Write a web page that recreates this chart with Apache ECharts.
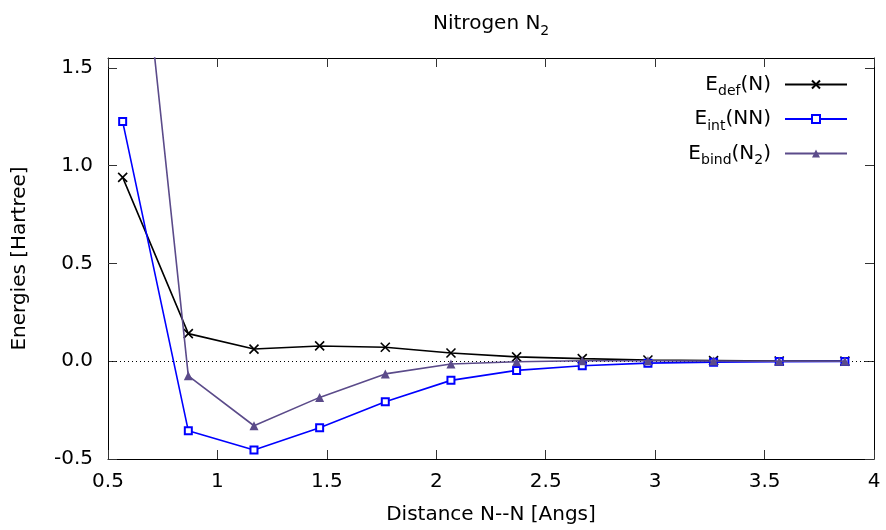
<!DOCTYPE html>
<html>
<head>
<meta charset="utf-8">
<script src="https://cdn.jsdelivr.net/npm/echarts@6/dist/echarts.min.js"></script>
<style>
  html, body { margin: 0; padding: 0; background: #fff; }
  #chart { width: 886px; height: 530px; }
</style>
</head>
<body>
<div id="chart"></div>
<script>
// N–N separation (Angstrom)
const distances = [0.567, 0.867, 1.167, 1.467, 1.767, 2.067, 2.367, 2.667, 2.967, 3.267, 3.567, 3.867];
// Deformation energy of one N atom (Hartree)
const eDef = [0.940, 0.141, 0.062, 0.078, 0.071, 0.042, 0.022, 0.013, 0.006, 0.003, 0.001, 0.0005];
// Interaction energy N–N (Hartree)
const eInt = [1.225, -0.356, -0.454, -0.340, -0.207, -0.098, -0.047, -0.023, -0.010, -0.005, -0.002, -0.001];
// Binding energy of N2 (Hartree)
const eBind = [3.105, -0.075, -0.330, -0.185, -0.065, -0.014, -0.003, 0.002, 0.002, 0.001, 0.000, 0.000];

const xTicks = [0.5, 1, 1.5, 2, 2.5, 3, 3.5, 4];
const yTicks = [-0.5, 0.0, 0.5, 1.0, 1.5];

const FONT = 'DejaVu Sans';
const FS = 20;
const SUB = 14;

const richStyles = {
  a: { fontFamily: FONT, fontSize: FS, fontWeight: 'normal', color: '#000', lineHeight: 28 },
  s: { fontFamily: FONT, fontSize: SUB, fontWeight: 'normal', color: '#000', lineHeight: 14, verticalAlign: 'bottom' },
  e: { fontFamily: FONT, fontSize: FS, fontWeight: 'normal', color: '#000', lineHeight: 28, padding: [0, 9, 0, 0] }
};

const pair = (ys) => distances.map((x, i) => [x, ys[i]]);

const seriesNames = ['def', 'int', 'bind'];
const legendLabels = {
  def: '{a|E}{s|def}{a|(N}{e|)}',
  int: '{a|E}{s|int}{a|(NN}{e|)}',
  bind: '{a|E}{s|bind}{a|(N}{s|2}{e|)}'
};

const axisCommon = {
  type: 'value',
  axisLine: { show: true, onZero: false, lineStyle: { color: '#000', width: 1 } },
  axisTick: { show: true, inside: true, length: 9, lineStyle: { color: '#333', width: 1 } },
  splitLine: { show: false }
};

const chart = echarts.init(document.getElementById('chart'), null, { renderer: 'canvas' });

chart.setOption({
  animation: false,
  backgroundColor: '#fff',
  title: {
    text: '{a|Nitrogen N}{s|2}',
    left: 428,
    top: 5,
    textStyle: { fontWeight: 'normal', rich: richStyles }
  },
  legend: seriesNames.map((n, i) => ({
    data: [n],
    orient: 'vertical',
    align: 'right',
    right: 38,
    top: 74.5 + i * 34.5,
    padding: 0,
    itemWidth: 62,
    itemHeight: 10,
    selectedMode: false,
    formatter: (name) => legendLabels[name],
    textStyle: { rich: richStyles }
  })),
  grid: { left: 108, right: 12, top: 58, bottom: 71, containLabel: false },
  xAxis: [
    Object.assign({}, axisCommon, {
      position: 'bottom',
      min: 0.5, max: 4, interval: 0.5,
      name: 'Distance N--N [Angs]',
      nameLocation: 'middle',
      nameGap: 46,
      nameTextStyle: { fontFamily: FONT, fontSize: FS, color: '#000' },
      axisTick: Object.assign({}, axisCommon.axisTick, { customValues: xTicks }),
      axisLabel: {
        customValues: xTicks,
        margin: 13,
        fontFamily: FONT, fontSize: FS, color: '#000',
        formatter: (v) => String(v)
      }
    }),
    Object.assign({}, axisCommon, {
      position: 'top',
      min: 0.5, max: 4, interval: 0.5,
      axisTick: Object.assign({}, axisCommon.axisTick, { customValues: xTicks }),
      axisLabel: { show: false }
    })
  ],
  yAxis: [
    Object.assign({}, axisCommon, {
      position: 'left',
      min: -0.5, max: 1.55,
      name: 'Energies [Hartree]',
      nameLocation: 'middle',
      nameGap: 78,
      nameTextStyle: { fontFamily: FONT, fontSize: FS, color: '#000' },
      axisTick: Object.assign({}, axisCommon.axisTick, { customValues: yTicks }),
      axisLabel: {
        customValues: yTicks,
        margin: 15,
        fontFamily: FONT, fontSize: FS, color: '#000',
        formatter: (v) => v.toFixed(1)
      }
    }),
    Object.assign({}, axisCommon, {
      position: 'right',
      min: -0.5, max: 1.55,
      axisTick: Object.assign({}, axisCommon.axisTick, { customValues: yTicks }),
      axisLabel: { show: false }
    })
  ],
  series: [
    {
      name: 'def',
      type: 'line',
      data: pair(eDef),
      symbol: 'path://M0,0L10,10M0,10L10,0',
      symbolSize: 9,
      lineStyle: { color: '#000', width: 1.6 },
      itemStyle: { color: '#000', borderColor: '#000', borderWidth: 1.6 },
      z: 3,
      markLine: {
        silent: true,
        symbol: 'none',
        z: 1,
        label: { show: false },
        lineStyle: { color: '#000', width: 1, type: [1, 3] },
        data: [{ yAxis: 0 }]
      }
    },
    {
      name: 'int',
      type: 'line',
      data: pair(eInt),
      symbol: 'emptyRect',
      symbolSize: 7,
      lineStyle: { color: '#0000ff', width: 1.6 },
      itemStyle: { color: '#0000ff', borderColor: '#0000ff', borderWidth: 1.6 },
      z: 4
    },
    {
      name: 'bind',
      type: 'line',
      data: pair(eBind),
      symbol: 'triangle',
      symbolSize: 9,
      lineStyle: { color: '#5b4b8a', width: 1.6 },
      itemStyle: { color: '#5b4b8a' },
      z: 5
    }
  ]
});
</script>
</body>
</html>
